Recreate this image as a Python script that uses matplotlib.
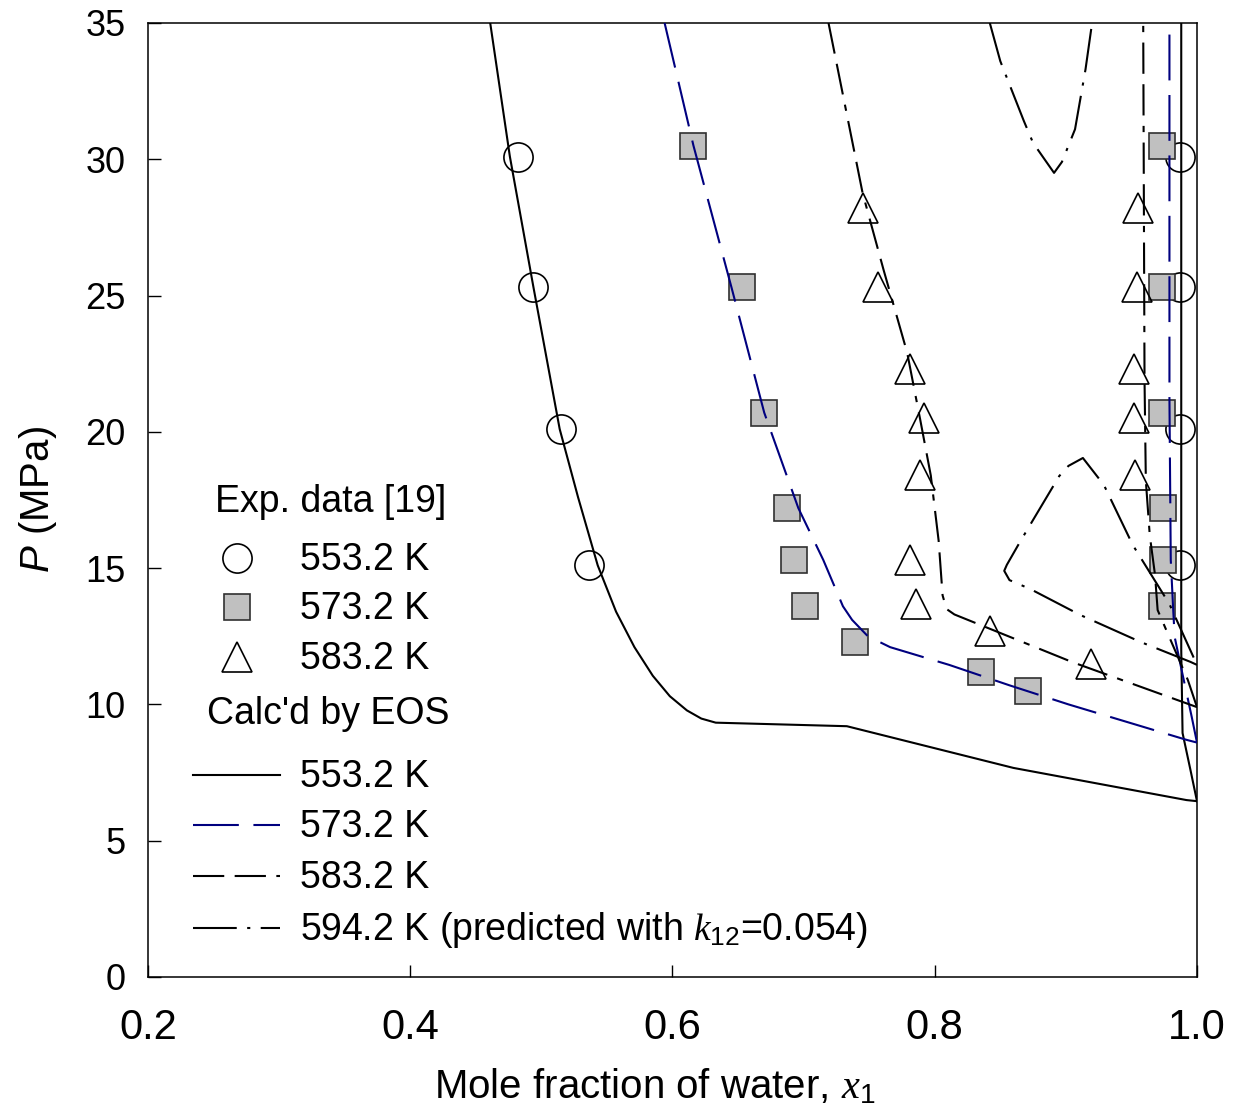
import matplotlib.pyplot as plt

plt.rcParams['font.family'] = 'Liberation Sans'
plt.rcParams['mathtext.fontset'] = 'custom'
plt.rcParams['mathtext.rm'] = 'Liberation Sans'
plt.rcParams['mathtext.it'] = 'Liberation Serif:italic'
plt.rcParams['mathtext.sf'] = 'Liberation Sans:italic'

# experimental points, Exp. data [19]
x_exp_553 = [0.482, 0.494, 0.515, 0.536, 0.987, 0.987, 0.987, 0.987]
p_exp_553 = [30.1, 25.3, 20.1, 15.1, 30.1, 25.3, 20.1, 15.1]

x_exp_573 = [0.616, 0.653, 0.670, 0.687, 0.693, 0.701, 0.739, 0.835, 0.871,
             0.973, 0.973, 0.973, 0.974, 0.974, 0.973]
p_exp_573 = [30.5, 25.3, 20.7, 17.2, 15.3, 13.6, 12.3, 11.2, 10.5,
             30.5, 25.3, 20.7, 17.2, 15.3, 13.6]

x_exp_583 = [0.745, 0.757, 0.781, 0.792, 0.789, 0.781, 0.786, 0.842, 0.919,
             0.955, 0.954, 0.952, 0.952, 0.953]
p_exp_583 = [28.2, 25.3, 22.3, 20.5, 18.4, 15.3, 13.7, 12.7, 11.5,
             28.2, 25.3, 22.3, 20.5, 18.4]

# EOS curves
x_liq_553 = [0.461, 0.476, 0.494, 0.514, 0.528, 0.543, 0.557, 0.571, 0.585,
             0.598, 0.611, 0.622, 0.633, 0.733, 0.860, 0.992, 1.0]
p_liq_553 = [35.0, 30.1, 25.3, 20.1, 17.6, 15.1, 13.4, 12.1, 11.05,
             10.3, 9.78, 9.48, 9.33, 9.2, 7.67, 6.49, 6.45]
x_vap_553 = [1.0, 0.995, 0.989, 0.988, 0.988]
p_vap_553 = [6.45, 7.6, 8.95, 12.0, 35.0]

x_liq_573 = [0.594, 0.616, 0.645, 0.670, 0.696, 0.715, 0.730, 0.737, 0.749,
             0.766, 0.811, 0.857, 0.902, 0.992, 1.0]
p_liq_573 = [35.0, 30.5, 25.3, 20.7, 17.2, 15.3, 13.6, 13.1, 12.5,
             12.1, 11.45, 10.7, 10.0, 8.7, 8.6]
x_vap_573 = [1.0, 0.996, 0.989, 0.983, 0.982, 0.980, 0.979, 0.979]
p_vap_573 = [8.6, 9.54, 11.1, 12.47, 13.35, 15.3, 21.2, 35.0]

x_liq_583 = [0.719, 0.745, 0.761, 0.779, 0.789, 0.797, 0.803, 0.806, 0.809,
             0.815, 0.905, 1.0]
p_liq_583 = [35.0, 28.76, 25.94, 22.9, 20.43, 18.4, 16.0, 14.0, 13.5,
             13.3, 11.55, 9.9]
x_vap_583 = [1.0, 0.993, 0.970, 0.968, 0.964, 0.961, 0.960, 0.959]
p_vap_583 = [9.9, 10.9, 13.46, 14.75, 16.2, 18.2, 21.9, 35.0]

x_top_594 = [0.842, 0.850, 0.868, 0.875, 0.891, 0.897, 0.907, 0.915, 0.920]
p_top_594 = [35.0, 33.6, 31.4, 30.6, 29.5, 29.9, 31.1, 33.3, 35.0]
x_loop_594 = [1.0, 0.995, 0.957, 0.911, 0.873, 0.857, 0.853, 0.855, 0.865,
              0.895, 0.902, 0.913, 0.929, 0.951, 0.979, 1.0]
p_loop_594 = [11.45, 11.56, 12.29, 13.28, 14.23, 14.56, 14.9, 15.12, 15.96,
              18.38, 18.75, 19.04, 18.05, 15.85, 13.68, 11.45]

x_ticks = [0.2, 0.4, 0.6, 0.8, 1.0]
y_ticks = [0, 5, 10, 15, 20, 25, 30, 35]

navy = '#00007f'
ls553 = '-'
ls573 = (0, (22, 7))
ls583 = (0, (15, 5, 15, 5, 3, 5))
ls594 = (0, (21, 5, 1.5, 5))
lw = 1.5

fig = plt.figure(figsize=(12.34, 11.14), dpi=100)
ax = fig.add_axes([0.1199, 0.1230, 0.8501, 0.8564])

# data points
ax.plot(x_exp_553, p_exp_553, 'o', ms=21, mfc='none', mec='black', mew=1.2, zorder=2)
ax.plot(x_exp_573, p_exp_573, 's', ms=19, mfc='#c0c0c0', mec='#303030', mew=1.2, zorder=3)
ax.plot(x_exp_583, p_exp_583, '^', ms=21, mfc='none', mec='black', mew=1.2, zorder=4)

# calculated curves
ax.plot(x_liq_553, p_liq_553, color='black', ls=ls553, lw=lw, zorder=5)
ax.plot(x_vap_553, p_vap_553, color='black', ls=ls553, lw=lw, zorder=5)
ax.plot(x_liq_573, p_liq_573, color=navy, ls=ls573, lw=lw, zorder=5)
ax.plot(x_vap_573, p_vap_573, color=navy, ls=ls573, lw=lw, zorder=5)
ax.plot(x_liq_583, p_liq_583, color='black', ls=ls583, lw=lw, zorder=5)
ax.plot(x_vap_583, p_vap_583, color='black', ls=ls583, lw=lw, zorder=5)
ax.plot(x_top_594, p_top_594, color='black', ls=ls594, lw=lw, zorder=5)
ax.plot(x_loop_594, p_loop_594, color='black', ls=ls594, lw=lw, zorder=5)

ax.set_xlim(0.2, 1.0)
ax.set_ylim(0, 35)
ax.set_xticks(x_ticks)
ax.set_xticklabels(['%.1f' % v for v in x_ticks], fontsize=30)
ax.set_yticks(y_ticks)
ax.set_yticklabels([str(v) for v in y_ticks], fontsize=26)
ax.tick_params(direction='in', length=9, width=1, top=False, right=False)
ax.tick_params(axis='x', pad=22)
ax.tick_params(axis='y', pad=16)
for s in ax.spines.values():
    s.set_linewidth(1.1)

ax.set_xlabel(r'Mole fraction of water, $x_1$', fontsize=29)
ax.xaxis.set_label_coords(0.483, -0.094)
ax.set_ylabel(r'$\mathsf{P}$ (MPa)', fontsize=29)
ax.yaxis.set_label_coords(-0.085, 0.5)

# hand-made legend
tr = ax.transAxes
fs = 27
ax.text(0.0639, 0.498, 'Exp. data [19]', transform=tr, fontsize=fs, va='center')
mk_rows = [0.4392, 0.3878, 0.3354]
mk_styles = [dict(marker='o', ms=21, mfc='none', mec='black'),
             dict(marker='s', ms=19, mfc='#c0c0c0', mec='#303030'),
             dict(marker='^', ms=21, mfc='none', mec='black')]
mk_labels = ['553.2 K', '573.2 K', '583.2 K']
for y, st, lab in zip(mk_rows, mk_styles, mk_labels):
    ax.plot([0.0848], [y], transform=tr, ls='none', mew=1.2, clip_on=False, **st)
    ax.text(0.145, y - 0.002, lab, transform=tr, fontsize=fs, va='center')

ax.text(0.0562, 0.2758, "Calc'd by EOS", transform=tr, fontsize=fs, va='center')
ln_rows = [0.2117, 0.1593, 0.1059, 0.0514]
ln_styles = [('black', ls553), (navy, ls573), ('black', ls583), ('black', ls594)]
ln_labels = ['553.2 K', '573.2 K', '583.2 K',
             r'594.2 K (predicted with $k_{12}$=0.054)']
for y, (c, ls), lab in zip(ln_rows, ln_styles, ln_labels):
    ax.plot([0.0429, 0.1258], [y, y], transform=tr, color=c, ls=ls, lw=lw, clip_on=False)
    ax.text(0.1449, y - 0.002, lab, transform=tr, fontsize=fs, va='center')

plt.savefig('out.png', dpi=100)
